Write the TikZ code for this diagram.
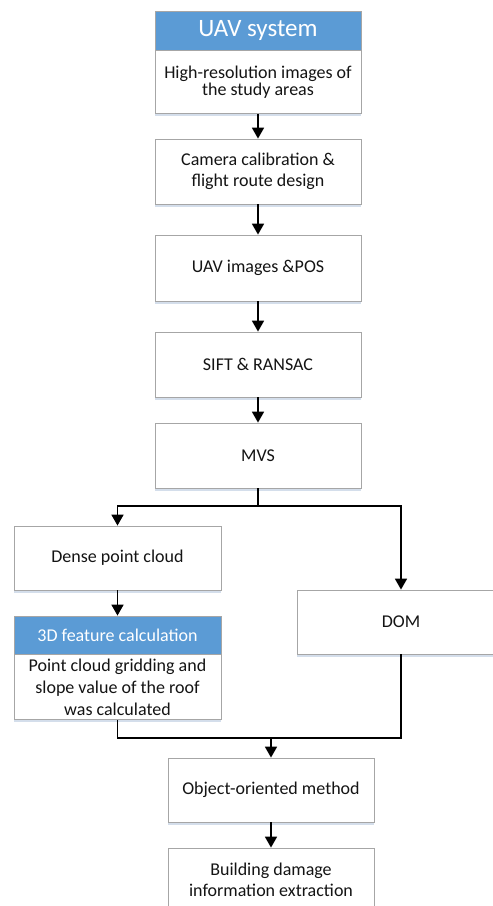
\documentclass[tikz,border=0pt]{standalone}
\usepackage{fontspec}
\setmainfont{Carlito}
\usetikzlibrary{arrows.meta,shadows}
\definecolor{hdrblue}{HTML}{5B9BD5}
\definecolor{edgegray}{HTML}{A6A6A6}
\definecolor{shadowblue}{HTML}{C9D6E6}

\begin{document}
\begin{tikzpicture}[x=1pt,y=-1pt,
  box/.style={draw=edgegray, line width=0.8pt, fill=white, minimum width=206pt,
    inner sep=0pt, align=center, font=\fontsize{18}{20.7}\selectfont, text=black!92,
    drop shadow={shadow xshift=0pt, shadow yshift=-2.5pt, fill=shadowblue, opacity=0.8}},
  hdr/.style={draw=edgegray, line width=0.8pt, fill=hdrblue, minimum width=206pt,
    inner sep=0pt, align=center, text=white, font=\fontsize{18}{20}\selectfont},
  flow/.style={line width=1.8pt, -{Triangle[width=12pt,length=11pt]}},
  link/.style={line width=1.8pt, line join=miter}
]
\useasboundingbox (0,0) rectangle (493,906);

% main column
\node[hdr, minimum height=39pt, font=\fontsize{25}{28}\selectfont] (uavhdr) at (258,30.5) {UAV system};
\node[box, minimum height=63pt, anchor=north, font=\fontsize{18}{16.5}\selectfont] (uavbody) at (uavhdr.south) {High-resolution images of\\the study areas};
\node[box, minimum height=65pt] (calib) at (258,171.5) {Camera calibration \&\\flight route design};
\node[box, minimum height=66pt] (pos) at (258,268) {UAV images \&POS};
\node[box, minimum height=65pt] (sift) at (258,364.5) {SIFT \& RANSAC};
\node[box, minimum height=65pt] (mvs) at (258,455.5) {MVS};

% left branch
\node[box, minimum height=64pt, minimum width=207pt] (dense) at (117.5,558) {Dense point cloud};
\node[hdr, minimum height=38pt, minimum width=207pt] (feathdr) at (117.5,635) {3D feature calculation};
\node[box, minimum height=65pt, minimum width=207pt, anchor=north, font=\fontsize{18}{21.7}\selectfont] (featbody) at (feathdr.south) {Point cloud gridding and\\slope value of the roof\\was calculated};

% right branch
\node[box, minimum height=64pt, minimum width=208pt] (dom) at (401,622) {DOM};

% lower column
\node[box, minimum height=64pt] (ooa) at (271,790) {Object-oriented method};
\node[box, minimum height=64pt] (extract) at (271,880) {Building damage\\information extraction};

% connectors
\draw[flow] (uavbody) -- (calib);
\draw[flow] (calib) -- (pos);
\draw[flow] (pos) -- (sift);
\draw[flow] (sift) -- (mvs);

\coordinate (split) at (258,506);
\draw[link] (mvs.south) -- (split);
\draw[flow] (split) -| (dense.north);
\draw[flow] (split) -| (dom.north);
\draw[flow] (dense) -- (feathdr);

\coordinate (merge) at (271,738);
\draw[link] (featbody.south) |- (merge);
\draw[link] (dom.south) |- (merge);
\draw[flow] (merge) -- (ooa.north);
\draw[flow] (ooa) -- (extract);
\end{tikzpicture}
\end{document}
